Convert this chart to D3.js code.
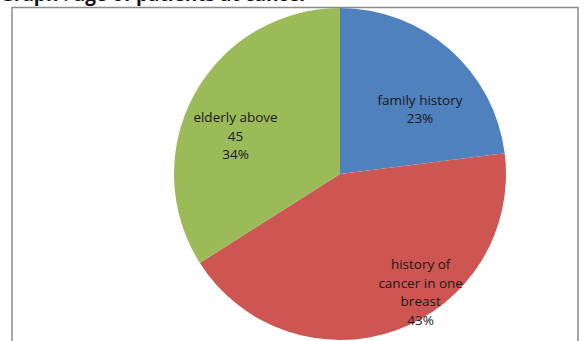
<!DOCTYPE html>
<html lang="en">
<head>
<meta charset="UTF-8">
<title>Age of patients</title>
<script src="https://d3js.org/d3.v7.min.js"></script>
<style>
  body { margin: 0; background: #fff; font-family: "Open Sans", Arial, sans-serif; }
  svg { display: block; }
</style>
</head>
<body>
<svg width="588" height="341"></svg>
<script>
// data
const categories = ['family history', 'history of cancer in one breast', 'elderly above 45'];
const labelLines = [['family history'], ['history of', 'cancer in one', 'breast'], ['elderly above', '45']];
const percents = [23, 43, 34];
const colors = ['#4f81bd', '#cd5653', '#9bbb59'];

// label placement (angle nudge in degrees, radius as fraction of pie radius)
const labelNudge = [9.6, -14.6, -8.8];
const labelRadius = [0.62, 0.86, 0.67];

const svg = d3.select('svg');
const cx = 340, cy = 174, r = 166;

// heading, cut off by the top edge
svg.append('text')
  .attr('x', 0)
  .attr('y', 1)
  .attr('font-size', 19)
  .attr('font-weight', 'bold')
  .attr('fill', '#111')
  .text('Graph : age of patients at cancer');

// chart area frame
svg.append('rect')
  .attr('x', 12).attr('y', 7.5)
  .attr('width', 566).attr('height', 345)
  .attr('fill', '#fff')
  .attr('stroke', '#8c8c8c')
  .attr('stroke-width', 1.5);

const pie = d3.pie().sort(null).value(d => d);
const arcs = pie(percents);
const arc = d3.arc().innerRadius(0).outerRadius(r);

const g = svg.append('g').attr('transform', `translate(${cx},${cy})`);

g.selectAll('path')
  .data(arcs)
  .join('path')
  .attr('d', arc)
  .attr('fill', (d, i) => colors[i]);

const labels = g.selectAll('text.lbl')
  .data(arcs)
  .join('text')
  .attr('class', 'lbl')
  .attr('text-anchor', 'middle')
  .attr('font-size', 13.5)
  .attr('fill', '#1a1a1a')
  .attr('transform', (d, i) => {
    const a = (d.startAngle + d.endAngle) / 2 + labelNudge[i] * Math.PI / 180;
    const rr = r * labelRadius[i];
    return `translate(${rr * Math.sin(a)},${-rr * Math.cos(a)})`;
  });

labels.each(function (d, i) {
  const lines = labelLines[i].concat([percents[i] + '%']);
  const lh = 18.5;
  const t0 = -(lines.length - 1) * lh / 2 + 5;
  d3.select(this).selectAll('tspan')
    .data(lines)
    .join('tspan')
    .attr('x', 0)
    .attr('y', (s, j) => t0 + j * lh)
    .text(s => s);
});
</script>
</body>
</html>
